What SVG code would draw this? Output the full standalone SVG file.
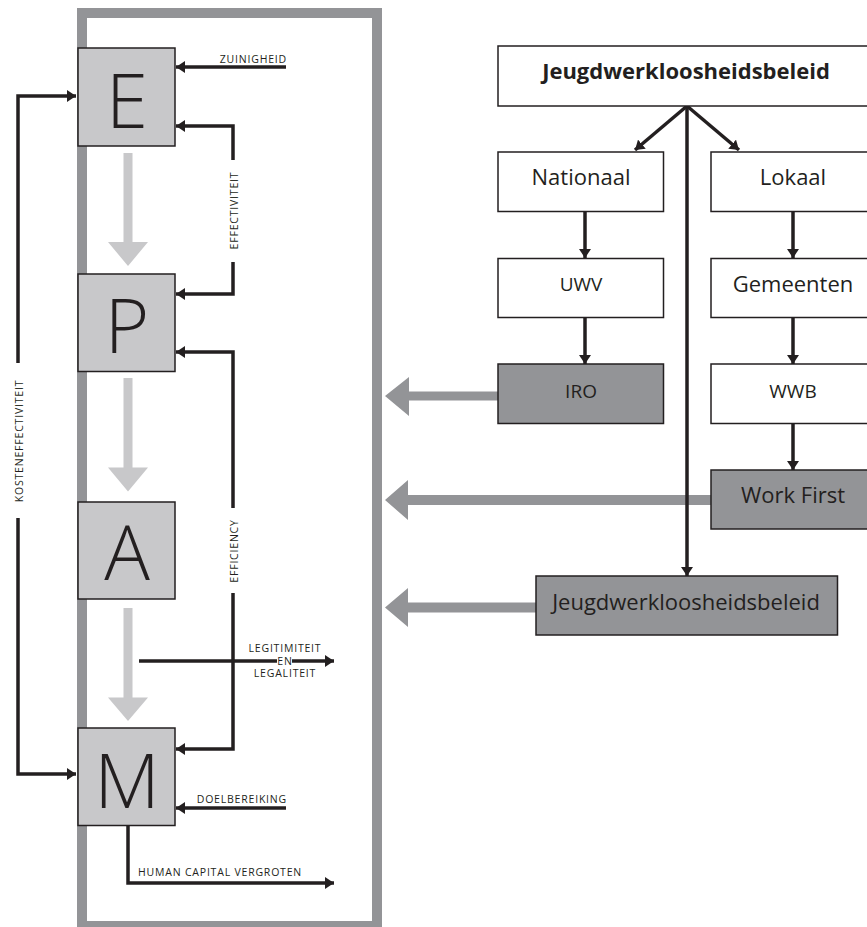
<svg xmlns="http://www.w3.org/2000/svg" width="867" height="927" viewBox="0 0 867 927">
<style>
.frame{fill:none;stroke:#939497;stroke-width:10}
.lbox{fill:#c8c8ca;stroke:#231f20;stroke-width:1.5}
.wbox{fill:#ffffff;stroke:#231f20;stroke-width:1.5}
.dbox{fill:#939497;stroke:#231f20;stroke-width:1.5}
.big{font-family:"Open Sans","Noto Sans",sans-serif;font-weight:300;font-size:76px;fill:#231f20;text-anchor:middle}
.lbl{font-family:"Open Sans","Noto Sans",sans-serif;font-size:10.5px;letter-spacing:0.8px;fill:#231f20}
.bt{font-family:"Open Sans","Noto Sans",sans-serif;font-size:22px;fill:#231f20;text-anchor:middle}
.st{font-family:"Open Sans","Noto Sans",sans-serif;font-size:19px;fill:#231f20;text-anchor:middle}
.ln{fill:none;stroke:#231f20;stroke-width:3.5}
.ga{fill:#c8c8ca}
.da{fill:#939497}
</style>
<defs>
<marker id="ah" viewBox="0 0 9 12" refX="9" refY="6" markerWidth="9" markerHeight="12" markerUnits="userSpaceOnUse" orient="auto">
<path d="M0,0 L9,6 L0,12 Z" fill="#231f20"/>
</marker>
</defs>
<rect class="frame" x="82" y="13" width="295" height="913"/>
<g id="arrows-flow">
<path class="ga" d="M123.5,153 V242 H108 L128,266 L148,242 H132.5 V153 Z"/>
<path class="ga" d="M123.5,378 V467.5 H108 L128,491.5 L148,467.5 H132.5 V378 Z"/>
<path class="ga" d="M123.5,608 V697.5 H108 L128,721 L148,697.5 H132.5 V608 Z"/>
<path class="da" d="M498,391.5 H409 V377 L385,396 L409,416 V400.5 H498 Z"/>
<path class="da" d="M711,495 H408 V480 L385,500 L408,520 V505 H711 Z"/>
<path class="da" d="M536,602.5 H408 V588 L385,607.5 L408,627 V612.5 H536 Z"/>
</g>
<g id="connectors">
<path class="ln" d="M18,363 V96 H76" marker-end="url(#ah)"/>
<path class="ln" d="M18,518 V774 H76" marker-end="url(#ah)"/>
<path class="ln" d="M233,160 V126 H176" marker-end="url(#ah)"/>
<path class="ln" d="M233,262 V294 H176" marker-end="url(#ah)"/>
<path class="ln" d="M233,508 V352 H176" marker-end="url(#ah)"/>
<path class="ln" d="M233,593 V749 H176" marker-end="url(#ah)"/>
<path class="ln" d="M286,67 H176" marker-end="url(#ah)"/>
<path class="ln" d="M286,808 H176" marker-end="url(#ah)"/>
<path class="ln" d="M139,661 H277"/>
<path class="ln" d="M292,661 H334" marker-end="url(#ah)"/>
<path class="ln" d="M128,826 V883 H334" marker-end="url(#ah)"/>
<path class="ln" d="M687,106 V576" marker-end="url(#ah)"/>
<path class="ln" d="M687,106 L635,150" marker-end="url(#ah)"/>
<path class="ln" d="M687,106 L739,150" marker-end="url(#ah)"/>
<path class="ln" d="M585,212 V258" marker-end="url(#ah)"/>
<path class="ln" d="M585,317 V364" marker-end="url(#ah)"/>
<path class="ln" d="M793,212 V258" marker-end="url(#ah)"/>
<path class="ln" d="M793,317 V364" marker-end="url(#ah)"/>
<path class="ln" d="M793,423 V470" marker-end="url(#ah)"/>
</g>
<g id="labels">
<text class="lbl" x="287" y="62.5" text-anchor="end">ZUINIGHEID</text>
<text class="lbl" text-anchor="middle" transform="translate(238,210.5) rotate(-90)">EFFECTIVITEIT</text>
<text class="lbl" text-anchor="middle" transform="translate(238,551) rotate(-90)">EFFICIENCY</text>
<text class="lbl" text-anchor="middle" transform="translate(22.5,441) rotate(-90)">KOSTENEFFECTIVITEIT</text>
<text class="lbl" x="285" y="652" text-anchor="middle">LEGITIMITEIT</text>
<text class="lbl" x="285" y="664.5" text-anchor="middle">EN</text>
<text class="lbl" x="285" y="677" text-anchor="middle">LEGALITEIT</text>
<text class="lbl" x="287" y="803" text-anchor="end">DOELBEREIKING</text>
<text class="lbl" x="138" y="876">HUMAN CAPITAL VERGROTEN</text>
</g>
<g id="E"><rect class="lbox" x="78" y="48" width="97" height="98"/><text class="big" x="127" y="127.5">E</text></g>
<g id="P"><rect class="lbox" x="78" y="274" width="97" height="97.5"/><text class="big" x="127" y="353">P</text></g>
<g id="A"><rect class="lbox" x="78" y="502" width="97" height="97"/><text class="big" x="127" y="580">A</text></g>
<g id="M"><rect class="lbox" x="78" y="728" width="97" height="97.5"/><text class="big" x="127" y="808">M</text></g>
<g id="jeugd-top"><rect class="wbox" x="498" y="46" width="380" height="60"/><text class="bt" x="686" y="79" font-weight="bold" font-size="21">Jeugdwerkloosheidsbeleid</text></g>
<g id="nationaal"><rect class="wbox" x="498" y="152" width="165.5" height="59.5"/><text class="bt" x="581" y="185">Nationaal</text></g>
<g id="lokaal"><rect class="wbox" x="711" y="152" width="170" height="59.5"/><text class="bt" x="793" y="185">Lokaal</text></g>
<g id="uwv"><rect class="wbox" x="498" y="258.5" width="165.5" height="59"/><text class="st" x="581" y="291">UWV</text></g>
<g id="gemeenten"><rect class="wbox" x="711" y="258.5" width="170" height="59"/><text class="bt" x="793" y="291.5">Gemeenten</text></g>
<g id="iro"><rect class="dbox" x="498" y="364" width="165.5" height="59.5"/><text class="st" x="581" y="397.5">IRO</text></g>
<g id="wwb"><rect class="wbox" x="711" y="364" width="170" height="59.5"/><text class="st" x="793" y="397.5">WWB</text></g>
<g id="workfirst"><rect class="dbox" x="711" y="470" width="170" height="59"/><text class="bt" x="793" y="503">Work First</text></g>
<g id="jeugd-bottom"><rect class="dbox" x="536" y="576" width="301.5" height="59"/><text class="bt" x="686" y="609.5" font-size="22.5">Jeugdwerkloosheidsbeleid</text></g>
</svg>
